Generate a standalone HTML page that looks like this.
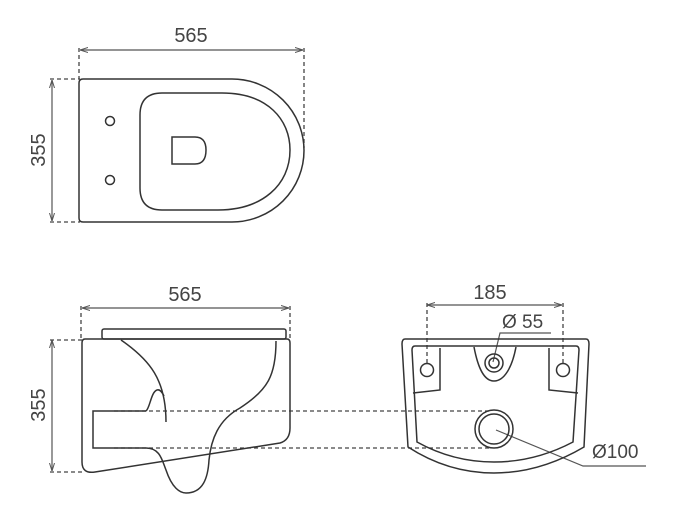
<!DOCTYPE html>
<html><head><style>html,body{margin:0;padding:0;background:#fff}svg{display:block}</style></head>
<body>
<svg width="700" height="515" viewBox="0 0 700 515" xmlns="http://www.w3.org/2000/svg" font-family="Liberation Sans, sans-serif">
<defs><marker id="a" markerWidth="8" markerHeight="6" refX="8" refY="3" orient="auto-start-reverse" markerUnits="userSpaceOnUse"><path d="M0,0.5 L8,3 L0,5.5" fill="none" stroke="#555" stroke-width="1"/></marker></defs>
<g fill="#444" font-size="20">
<text x="191" y="42" text-anchor="middle">565</text>
<text x="185" y="301" text-anchor="middle">565</text>
<text x="490" y="299" text-anchor="middle">185</text>
<text x="502" y="328" font-size="19">Ø 55</text>
<text x="592" y="458" font-size="19">Ø100</text>
<text transform="translate(45,150) rotate(-90)" text-anchor="middle">355</text>
<text transform="translate(45,405) rotate(-90)" text-anchor="middle">355</text>
</g>
<g stroke="#555" stroke-width="1.2" fill="none">
<line x1="80" y1="50" x2="303" y2="50" marker-start="url(#a)" marker-end="url(#a)"/>
<line x1="52" y1="80" x2="52" y2="221" marker-start="url(#a)" marker-end="url(#a)"/>
<line x1="82" y1="308" x2="289" y2="308" marker-start="url(#a)" marker-end="url(#a)"/>
<line x1="52" y1="340" x2="52" y2="471" marker-start="url(#a)" marker-end="url(#a)"/>
<line x1="427" y1="305" x2="562" y2="305" marker-start="url(#a)" marker-end="url(#a)"/>
<polyline points="493,362 500,333 551,333"/>
<polyline points="496,430 583,466 646,466"/>
</g>
<g stroke="#444" stroke-width="1.3" fill="none" stroke-dasharray="4,3">
<line x1="79" y1="48" x2="79" y2="79"/><line x1="304" y1="48" x2="304" y2="148"/>
<line x1="50" y1="79" x2="80" y2="79"/><line x1="50" y1="222" x2="80" y2="222"/>
<line x1="81" y1="306" x2="81" y2="340"/><line x1="290" y1="306" x2="290" y2="340"/>
<line x1="50" y1="340" x2="84" y2="340"/><line x1="50" y1="472" x2="84" y2="472"/>
<line x1="427" y1="303" x2="427" y2="364"/><line x1="563" y1="303" x2="563" y2="364"/>
<line x1="114" y1="411" x2="492" y2="411"/><line x1="114" y1="448" x2="492" y2="448"/>
</g>
<g stroke="#333" stroke-width="1.5" fill="none">
<path d="M83,79 H232 A72,71.5 0 0 1 232,222 H83 Q79,222 79,218 V83 Q79,79 83,79 Z"/>
<path d="M162,93 H222 C268,93 290,120 290,150 C290,185 262,210 218,210 H162 Q140,210 140,188 V115 Q140,93 162,93 Z"/>
<circle cx="110" cy="121" r="4.5"/><circle cx="110" cy="180" r="4.5"/>
<path d="M172,137 H195 Q206,137 206,150 Q206,164 195,164 H172 Z"/>
<rect x="102" y="329" width="184" height="10" rx="2"/>
<path d="M85,339 H287 Q290,339 290,343 V428 Q290,440 280,443 L95,472 Q82,474 82,462 V343 Q82,339 85,339 Z"/>
<path d="M121,340 C150,360 166,380 166,422"/>
<path d="M146,411 H93 V448 H146 C160,448 162,460 166,470 C172,488 180,493 186,493 C203,493 208,478 209,460 C211,440 218,420 240,408 C268,390 276,375 276,341"/>
<path d="M146,411 C150,408 151,392 157,390 C160,389 162,392 164,396"/>
<path d="M405,339 H586 Q589,339 589,344 L584,447 Q540,473 494,473 Q448,473 408,447 L402,344 Q402,339 405,339 Z"/>
<path d="M415,346 H576 Q579,346 579,350 L573,442 Q535,462 494,462 Q453,462 417,442 L412,350 Q412,346 415,346 Z"/>
<polyline points="440,348 440,390 413,393"/>
<polyline points="549,348 549,390 578,393"/>
<circle cx="427" cy="370" r="6.5"/><circle cx="563" cy="370" r="6.5"/>
<path d="M474,347 C478,368 484,381 494,381 C504,381 512,368 516,347"/>
<circle cx="494" cy="363" r="9"/><circle cx="494" cy="363" r="5"/>
<circle cx="494" cy="429" r="19"/><circle cx="494" cy="429" r="15"/>
</g>
</svg>
</body></html>
